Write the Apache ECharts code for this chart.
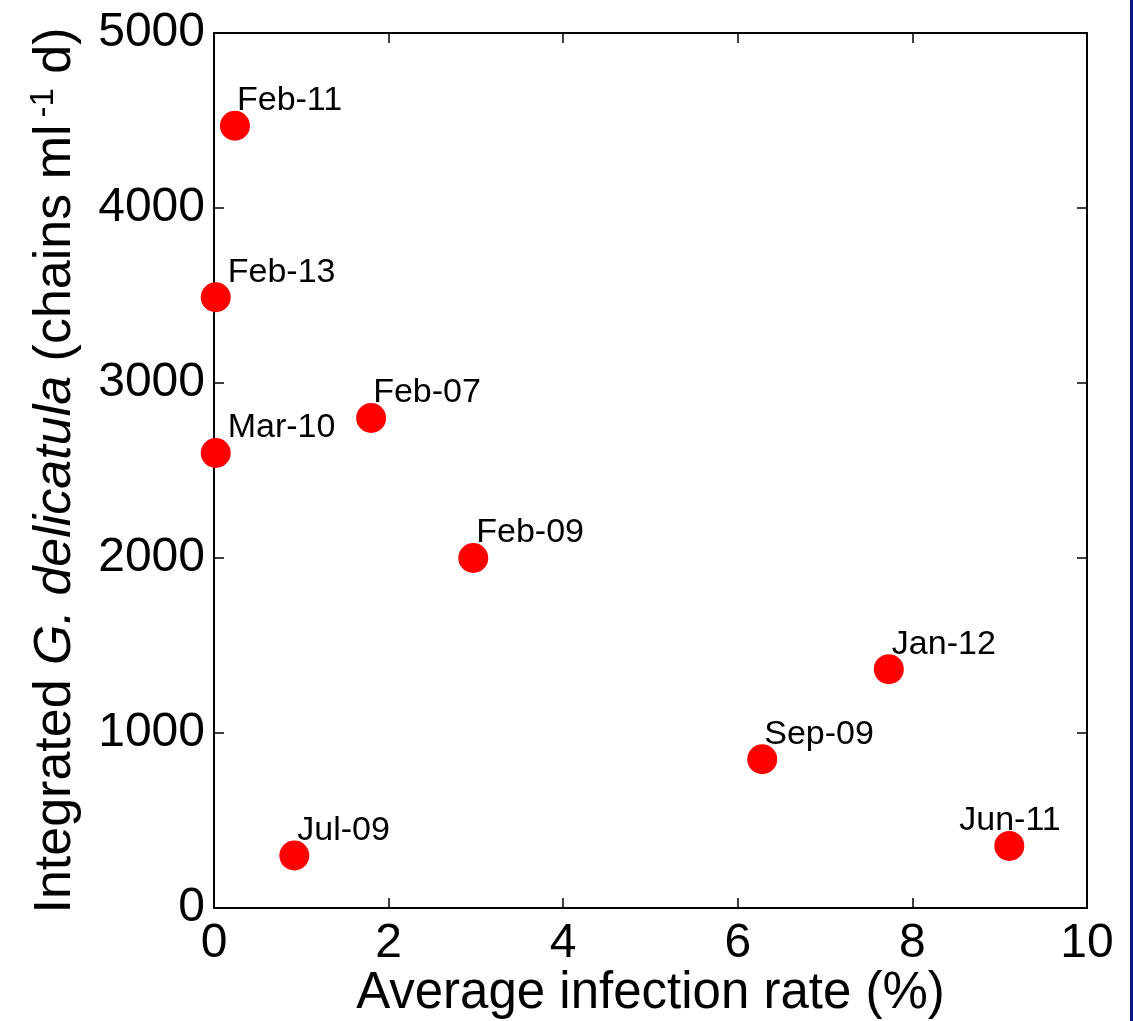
<!DOCTYPE html>
<html>
<head>
<meta charset="utf-8">
<script src="https://cdn.jsdelivr.net/npm/echarts@6/dist/echarts.min.js"></script>
<style>
html,body{margin:0;padding:0;background:#fff;}
#chart{width:1133px;height:1021px;}
</style>
</head>
<body>
<div id="chart"></div>
<script>
// ---- data ----
var sampleLabels = ['Feb-11','Feb-13','Mar-10','Feb-07','Feb-09','Jan-12','Sep-09','Jul-09','Jun-11'];
var infectionRate = [0.24, 0.02, 0.02, 1.80, 2.97, 7.73, 6.28, 0.92, 9.11];
var integratedAbundance = [4470, 3490, 2600, 2800, 2000, 1365, 850, 300, 355];
var xTicks = [0, 2, 4, 6, 8, 10];
var yTicks = [0, 1000, 2000, 3000, 4000, 5000];
// label horizontal nudges (px) relative to marker centre
var labelNudgeX = [2, 12, 12, 2, 3, 3, 2, 3, -50];

var FONT = 'Liberation Sans, Arial, Helvetica, sans-serif';
var chart = echarts.init(document.getElementById('chart'), null, {renderer: 'canvas'});

var points = infectionRate.map(function (x, i) {
  return {
    value: [x, integratedAbundance[i]],
    name: sampleLabels[i],
    label: {offset: [labelNudgeX[i], 7]}
  };
});

var tickStyle = {show: true, inside: true, length: 10, lineStyle: {color: '#000', width: 1.5}};
var lineStyle = {show: true, onZero: false, lineStyle: {color: '#000', width: 2}};
function plain(v) { return String(v); }

chart.setOption({
  animation: false,
  backgroundColor: '#fff',
  grid: {left: 214, right: 46, top: 33, bottom: 113, containLabel: false, outerBoundsMode: 'none'},
  xAxis: [{
    type: 'value', position: 'bottom', min: xTicks[0], max: xTicks[xTicks.length - 1], interval: 2,
    axisLine: lineStyle, axisTick: tickStyle, splitLine: {show: false},
    axisLabel: {show: true, margin: 12, color: '#000', fontSize: 48, fontFamily: FONT, formatter: plain},
    name: 'Average infection rate (%)', nameLocation: 'middle', nameGap: 60, nameMoveOverlap: false,
    nameTextStyle: {color: '#000', fontSize: 51, fontFamily: FONT}
  }, {
    type: 'value', position: 'top', min: xTicks[0], max: xTicks[xTicks.length - 1], interval: 2,
    axisLine: lineStyle, axisTick: tickStyle, splitLine: {show: false}, axisLabel: {show: false}
  }],
  yAxis: [{
    type: 'value', position: 'left', min: yTicks[0], max: yTicks[yTicks.length - 1], interval: 1000,
    axisLine: lineStyle, axisTick: tickStyle, splitLine: {show: false},
    axisLabel: {show: true, margin: 9, color: '#000', fontSize: 48, fontFamily: FONT, formatter: plain},
    name: '{n|Integrated }{i|G. delicatula}{n| (chains ml}{s|-1}{n| d)}',
    nameLocation: 'middle', nameRotate: 90, nameGap: 129, nameMoveOverlap: false,
    nameTextStyle: {
      color: '#000', fontSize: 52, fontFamily: FONT,
      rich: {
        n: {fontSize: 52, fontFamily: FONT, color: '#000', lineHeight: 58},
        i: {fontSize: 52, fontFamily: FONT, color: '#000', fontStyle: 'italic', lineHeight: 58},
        s: {fontSize: 33, fontFamily: FONT, color: '#000', verticalAlign: 'top', lineHeight: 58, padding: [0, 0, 0, 7]}
      }
    }
  }, {
    type: 'value', position: 'right', min: yTicks[0], max: yTicks[yTicks.length - 1], interval: 1000,
    axisLine: lineStyle, axisTick: tickStyle, splitLine: {show: false}, axisLabel: {show: false}
  }],
  series: [{
    type: 'scatter',
    xAxisIndex: 0, yAxisIndex: 0,
    symbol: 'circle', symbolSize: 30,
    itemStyle: {color: '#ff0000', opacity: 1},
    data: points,
    label: {
      show: true, position: 'top', distance: 0, align: 'left', verticalAlign: 'bottom',
      formatter: '{b}', color: '#000', fontSize: 34, fontFamily: FONT
    },
    emphasis: {disabled: true}
  }],
  graphic: [{
    type: 'rect', left: 1130, top: 0,
    shape: {width: 3, height: 1021},
    style: {fill: '#0b1a84'}
  }]
});
</script>
</body>
</html>
